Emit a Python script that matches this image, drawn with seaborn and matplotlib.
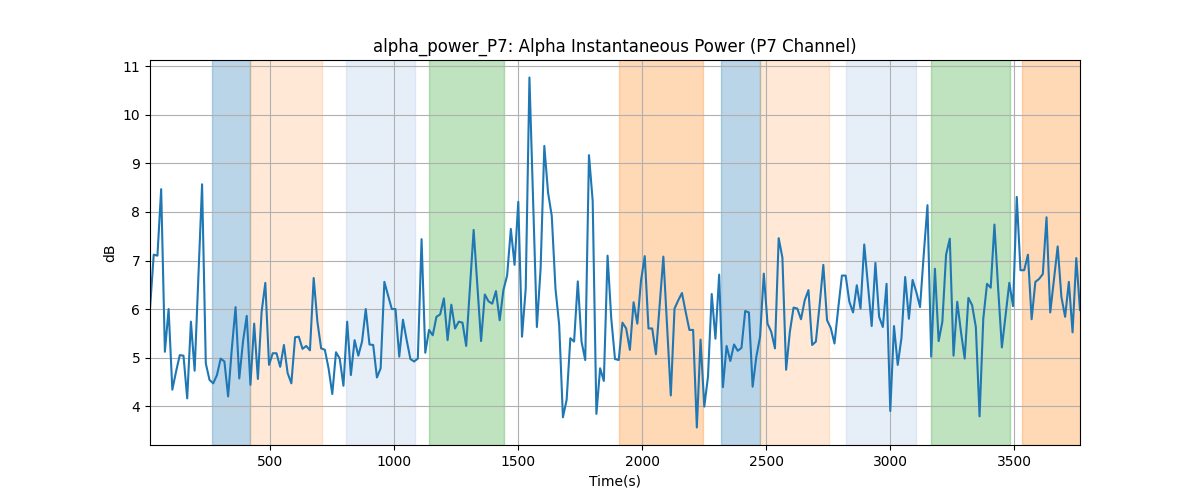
import numpy as np
import pandas as pd
import matplotlib
matplotlib.use("Agg")
import matplotlib.pyplot as plt
import seaborn as sns

t_start = 16
t_step = 15
values = [
    6.01, 7.12, 7.10, 8.47, 5.12, 6.00, 4.34, 4.71, 5.05, 5.04,
    4.16, 5.74, 4.73, 6.63, 8.57, 4.88, 4.54, 4.47, 4.64, 4.98,
    4.92, 4.20, 5.19, 6.04, 4.57, 5.33, 5.86, 4.44, 5.70, 4.56,
    5.94, 6.54, 4.85, 5.09, 5.09, 4.81, 5.26, 4.68, 4.47, 5.42,
    5.43, 5.18, 5.24, 5.15, 6.64, 5.74, 5.19, 5.16, 4.78, 4.25,
    5.11, 4.98, 4.42, 5.74, 4.64, 5.36, 5.04, 5.33, 6.00, 5.27,
    5.26, 4.59, 4.78, 6.56, 6.28, 6.00, 6.00, 5.02, 5.78, 5.36,
    4.97, 4.92, 4.98, 7.44, 5.10, 5.57, 5.46, 5.84, 5.89, 6.22,
    5.36, 6.09, 5.60, 5.74, 5.72, 5.24, 6.42, 7.63, 6.50, 5.34,
    6.30, 6.16, 6.11, 6.37, 5.77, 6.39, 6.69, 7.65, 6.91, 8.21,
    5.43, 6.42, 10.77, 8.20, 5.63, 6.83, 9.36, 8.40, 7.92, 6.42,
    5.67, 3.77, 4.13, 5.40, 5.33, 6.57, 5.33, 4.95, 9.17, 8.23,
    3.84, 4.78, 4.52, 7.10, 5.80, 4.97, 4.95, 5.72, 5.60, 5.16,
    6.14, 5.70, 6.59, 7.09, 5.60, 5.60, 5.07, 6.08, 7.08, 5.67,
    4.22, 6.01, 6.18, 6.33, 5.94, 5.57, 5.57, 3.56, 5.37, 3.99,
    4.61, 6.31, 5.39, 6.71, 4.39, 5.24, 4.93, 5.27, 5.14, 5.20,
    5.96, 5.93, 4.40, 5.02, 5.43, 6.73, 5.70, 5.53, 5.19, 7.46,
    7.06, 4.75, 5.53, 6.03, 6.01, 5.79, 6.18, 6.39, 5.26, 5.33,
    6.08, 6.91, 5.77, 5.61, 5.29, 6.01, 6.69, 6.69, 6.15, 5.93,
    6.49, 6.01, 7.33, 6.50, 5.65, 6.95, 5.84, 5.63, 6.52, 3.90,
    5.65, 4.85, 5.40, 6.66, 5.80, 6.60, 6.35, 6.04, 7.13, 8.14,
    5.02, 6.83, 5.34, 5.74, 7.12, 7.45, 5.04, 6.15, 5.53, 4.98,
    6.23, 6.08, 5.63, 3.79, 5.80, 6.52, 6.44, 7.74, 6.42, 5.21,
    5.87, 6.54, 6.06, 8.31, 6.80, 6.80, 7.12, 5.79, 6.56, 6.62,
    6.72, 7.89, 5.93, 6.62, 7.29, 6.25, 5.84, 6.56, 5.52, 7.05,
    5.98,
]
times = [t_start + t_step * i for i in range(len(values))]

span_starts = [265, 419, 805, 1139, 1909, 2320, 2476, 2824, 3166, 3533]
span_ends = [419, 711, 1085, 1444, 2246, 2476, 2754, 3104, 3483, 3800]
span_colors = ["tab:blue", "tab:orange", "#aec7e8", "tab:green", "tab:orange",
               "tab:blue", "tab:orange", "#aec7e8", "tab:green", "tab:orange"]
span_alphas = [0.3, 0.17, 0.3, 0.3, 0.3, 0.3, 0.17, 0.3, 0.3, 0.3]

title = "alpha_power_P7: Alpha Instantaneous Power (P7 Channel)"

df = pd.DataFrame({"Time(s)": times, "dB": values})

fig, ax = plt.subplots(figsize=(12, 5), dpi=100)
for s, e, c, a in zip(span_starts, span_ends, span_colors, span_alphas):
    ax.axvspan(s, e, color=c, alpha=a)
sns.lineplot(data=df, x="Time(s)", y="dB", ax=ax, color="tab:blue", linewidth=1.5)
ax.set_xlim(times[0], times[-1])
ax.grid(True)
ax.set_title(title)
ax.set_xlabel("Time(s)")
ax.set_ylabel("dB")
fig.savefig("out.png", dpi=100)
